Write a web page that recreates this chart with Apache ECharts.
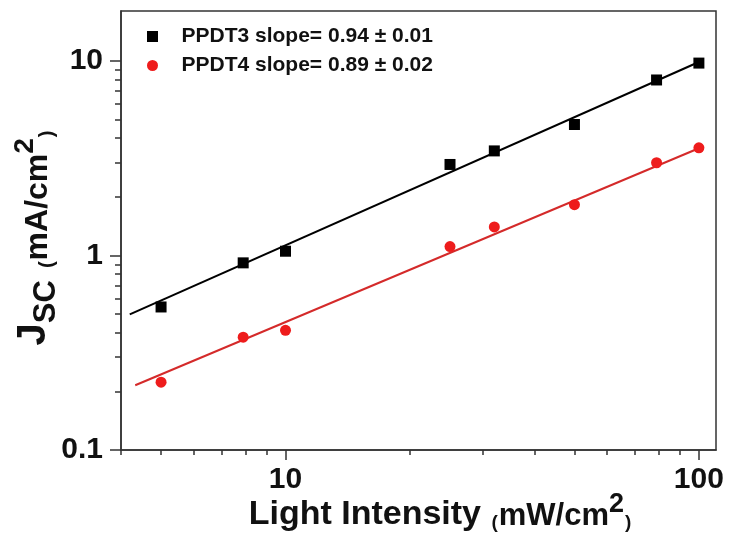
<!DOCTYPE html>
<html><head><meta charset="utf-8">
<script src="https://cdn.jsdelivr.net/npm/echarts@6/dist/echarts.min.js"></script>
<style>html,body{margin:0;padding:0;background:#fff}#c{width:730px;height:540px}</style>
</head><body><div id="c"></div>
<script>
// Data
const intensity = [5, 7.9, 10, 25, 32, 50, 79, 100];
const ppdt3 = [0.543, 0.915, 1.05, 2.93, 3.44, 4.70, 7.96, 9.72];
const ppdt4 = [0.223, 0.38, 0.412, 1.11, 1.40, 1.82, 2.99, 3.57];
const fit3X = [4.2, 100];
const fit3Y = [0.497, 9.85];
const fit4X = [4.33, 100];
const fit4Y = [0.215, 3.55];
const xMajor = [10, 100];
const xMinor = [4, 5, 6, 7, 8, 9, 20, 30, 40, 50, 60, 70, 80, 90];
const yMajor = [0.1, 1, 10];
const yMinor = [0.2, 0.3, 0.4, 0.5, 0.6, 0.7, 0.8, 0.9, 2, 3, 4, 5, 6, 7, 8, 9];
const seriesNames = ['PPDT3 slope= 0.94 \u00B1 0.01', 'PPDT4 slope= 0.89 \u00B1 0.02'];

const FF = '"Liberation Sans", Arial, sans-serif';
const AX = '#333';
const zip = (a, b) => a.map((v, i) => [v, b[i]]);
const fmt = v => (v < 1 ? String(Math.round(v * 10) / 10) : String(Math.round(v)));

const chart = echarts.init(document.getElementById('c'), null, {renderer: 'canvas'});
const minorAxis = (extra) => Object.assign({
  type: 'log', logBase: 10, gridIndex: 0,
  axisLine: {show: false}, axisLabel: {show: false}, splitLine: {show: false},
  minorTick: {show: false}, minorSplitLine: {show: false}
}, extra);
const rt = (size, extra) => Object.assign({fontFamily: FF, fontSize: size, fontWeight: 'bold', color: '#111',
  lineHeight: size, verticalAlign: 'bottom'}, extra || {});

chart.setOption({
  backgroundColor: '#fff',
  animation: false,
  grid: {left: 121, top: 11, right: 14, bottom: 90, show: true, borderColor: AX, borderWidth: 1.5,
         containLabel: false, outerBoundsMode: 'none'},
  legend: {
    data: [
      {name: seriesNames[0], icon: 'path://M0,0L10,0L10,10L0,10Z'},
      {name: seriesNames[1], icon: 'circle'}
    ],
    orient: 'vertical', left: 142, top: 21,
    itemWidth: 48, itemHeight: 11, itemGap: 8, symbolKeepAspect: true,
    textStyle: {fontFamily: FF, fontSize: 21, fontWeight: 'bold', color: '#111', lineHeight: 21}
  },
  xAxis: [{
    type: 'log', logBase: 10, min: 4, max: 110, gridIndex: 0, position: 'bottom',
    axisLine: {show: true, onZero: false, lineStyle: {color: AX, width: 1.5}},
    axisTick: {show: true, inside: false, length: 10, customValues: xMajor, lineStyle: {color: AX, width: 1.5}},
    axisLabel: {show: true, customValues: xMajor, formatter: fmt, fontFamily: FF, fontSize: 30,
                fontWeight: 'bold', color: '#111', margin: 15},
    splitLine: {show: false}, minorTick: {show: false},
    name: '{a|Light Intensity }{p|(}{b|mW/cm}{s|2}{p|)}',
    nameLocation: 'middle', nameGap: 48, nameMoveOverlap: false,
    nameTextStyle: {
      padding: [0, 0, 0, 44],
      rich: {
        a: rt(34),
        b: rt(31),
        p: rt(19, {padding: [0, 1, 0, 1]}),
        s: rt(27, {padding: [0, 0, 14, 0]})
      }
    }
  }, minorAxis({min: 4, max: 110, position: 'bottom',
    axisTick: {show: true, inside: false, length: 5, customValues: xMinor, lineStyle: {color: AX, width: 1.5}}})],
  yAxis: [{
    type: 'log', logBase: 10, min: 0.1, max: 18, gridIndex: 0, position: 'left',
    axisLine: {show: true, onZero: false, lineStyle: {color: AX, width: 1.5}},
    axisTick: {show: true, inside: false, length: 11, customValues: yMajor, lineStyle: {color: AX, width: 1.5}},
    axisLabel: {show: true, customValues: yMajor, formatter: fmt, fontFamily: FF, fontSize: 30,
                fontWeight: 'bold', color: '#111', margin: 18},
    splitLine: {show: false}, minorTick: {show: false},
    name: '{j|J}{c|SC}{p|  (}{b|mA/cm}{s|2}{p|)}',
    nameLocation: 'middle', nameGap: 59, nameRotate: 90, nameMoveOverlap: false,
    nameTextStyle: {
      padding: [0, 14, 0, 0],
      rich: {
        j: rt(40, {padding: [0, 0, 8, 0]}),
        c: rt(31),
        b: rt(32, {padding: [0, 0, 8, 0]}),
        p: rt(20, {padding: [0, 1, 5, 1]}),
        s: rt(28, {padding: [0, 0, 23, 0]})
      }
    }
  }, minorAxis({min: 0.1, max: 18, position: 'left',
    axisTick: {show: true, inside: false, length: 6, customValues: yMinor, lineStyle: {color: AX, width: 1.5}}})],
  series: [
    {name: 'fit3', type: 'line', data: zip(fit3X, fit3Y), showSymbol: false, symbol: 'none', silent: true,
     lineStyle: {color: '#000', width: 2}, itemStyle: {color: '#000'}, z: 2},
    {name: 'fit4', type: 'line', data: zip(fit4X, fit4Y), showSymbol: false, symbol: 'none', silent: true,
     lineStyle: {color: '#d42a2a', width: 2}, itemStyle: {color: '#d42a2a'}, z: 2},
    {name: seriesNames[0], type: 'scatter', data: zip(intensity, ppdt3), symbol: 'rect', symbolSize: 11,
     itemStyle: {color: '#000', opacity: 1}, z: 3},
    {name: seriesNames[1], type: 'scatter', data: zip(intensity, ppdt4), symbol: 'circle', symbolSize: 11,
     itemStyle: {color: '#ee1c1c', opacity: 1}, z: 3}
  ]
});
</script></body></html>
